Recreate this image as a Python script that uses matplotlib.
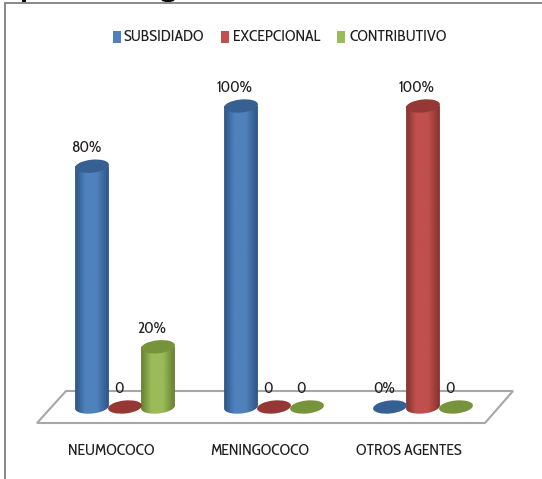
import numpy as np
import matplotlib
matplotlib.use("Agg")
import matplotlib.pyplot as plt
from matplotlib.patches import Ellipse, PathPatch, Polygon, Rectangle
from matplotlib.path import Path as MPath
from matplotlib.colors import LinearSegmentedColormap
from matplotlib.transforms import Affine2D, IdentityTransform

# -------------------------------------------------
# Data
# -------------------------------------------------

CATEGORIES = ["NEUMOCOCO", "MENINGOCOCO", "OTROS AGENTES"]
SERIES = ["SUBSIDIADO", "EXCEPCIONAL", "CONTRIBUTIVO"]
SUBSIDIADO = [80, 100, 0]
EXCEPCIONAL = [0, 0, 100]
CONTRIBUTIVO = [20, 0, 0]
LABELS_SUBSIDIADO = ["80%", "100%", "0%"]
LABELS_EXCEPCIONAL = ["0", "0", "100%"]
LABELS_CONTRIBUTIVO = ["20%", "0", "0"]

# -------------------------------------------------
# Style
# -------------------------------------------------

W, H = 542, 479
PX_X = 149.0  # pixels per category
PX_Y = 3.01  # pixels per percent
X0_PX = 125.0
Y0_PX = 407.0
BAR_STEP = 33.0 / PX_X
RX, RY = 17.0, 6.5  # cylinder ellipse radii, pixels
TILT = np.deg2rad(6)

COLORS = {
    "SUBSIDIADO": ("#4f81bd", "#2c5584", "#376092"),
    "EXCEPCIONAL": ("#c0504d", "#853230", "#953735"),
    "CONTRIBUTIVO": ("#9bbb59", "#64802f", "#77933c"),
}
TEXT = "#1f1f1f"
FS = 11.5
plt.rcParams["font.family"] = ["Cabin Condensed", "Lato", "DejaVu Sans"]


def draw_cylinder(ax, x, value, name):
    main, dark, top = COLORS[name]
    cx, cy_top = ax.transData.transform((x, value))
    _, cy_base = ax.transData.transform((x, 0))

    if value > 0:
        cmap = LinearSegmentedColormap.from_list(
            "cyl", [(0, dark), (0.3, main), (0.65, main), (1, dark)]
        )
        grad = np.linspace(0, 1, 64).reshape(1, -1)
        im = ax.imshow(grad, extent=[x - RX / PX_X, x + RX / PX_X, -3, value],
                       cmap=cmap, aspect="auto", origin="lower", zorder=3)
        # body outline: straight sides, tilted lower half of the base ellipse
        t = np.linspace(np.pi, 2 * np.pi, 40)
        ex = cx + RX * np.cos(t) * np.cos(TILT) - RY * np.sin(t) * np.sin(TILT)
        ey = cy_base + RX * np.cos(t) * np.sin(TILT) + RY * np.sin(t) * np.cos(TILT)
        verts = np.column_stack([
            np.r_[ex[0], ex, ex[-1], ex[0]],
            np.r_[cy_top, ey, cy_top, cy_top],
        ])
        clip = PathPatch(MPath(verts, closed=True), transform=IdentityTransform(),
                         fc="none", ec="none")
        ax.add_patch(clip)
        im.set_clip_path(clip)

    ax.add_patch(Ellipse((cx, cy_top), 2 * RX, 2 * RY, angle=np.rad2deg(TILT),
                         transform=IdentityTransform(), fc=top, ec="none", zorder=4))


def main():
    fig = plt.figure(figsize=(W / 100, H / 100), dpi=100, facecolor="white")
    ax = fig.add_axes([0, 0, 1, 1])
    ax.set_xlim((0 - X0_PX) / PX_X, (W - X0_PX) / PX_X)
    ax.set_ylim((Y0_PX - H) / PX_Y, Y0_PX / PX_Y)
    ax.axis("off")

    # pixel coordinates, origin top left, for frame, floor and legend
    px = Affine2D().scale(1, -1).translate(0, H)

    # chart frame, open to the right and bottom of the picture
    ax.plot([5, 5, W], [H, 3, 3], transform=px, color="#808080", lw=1.3, zorder=1,
            solid_joinstyle="miter")

    # descenders of the heading cut off by the frame
    ax.add_patch(Rectangle((22, 0), 4, 2, transform=px, fc="black", ec="none", zorder=2))
    ax.add_patch(Ellipse((168, 0), 13, 4, transform=px, fc="black", ec="none", zorder=2))

    # floor
    ax.add_patch(Polygon([(37, 423), (66, 391), (513, 391), (485, 423)], closed=True,
                         transform=px, fc="white", ec="#a6a6a6", lw=1.5, zorder=2))

    for s, (name, values, labels) in enumerate(zip(
            SERIES,
            [SUBSIDIADO, EXCEPCIONAL, CONTRIBUTIVO],
            [LABELS_SUBSIDIADO, LABELS_EXCEPCIONAL, LABELS_CONTRIBUTIVO])):
        for c, (v, lab) in enumerate(zip(values, labels)):
            x = c + (s - 1) * BAR_STEP
            draw_cylinder(ax, x, v, name)
            ax.text(x - 6 / PX_X, v + 18 / PX_Y, lab, ha="center", va="center",
                    fontsize=FS, color=TEXT, zorder=5)

    for c, cat in enumerate(CATEGORIES):
        ax.text(c - 14 / PX_X, (Y0_PX - 451) / PX_Y, cat, ha="center", va="center",
                fontsize=FS, color=TEXT, zorder=5)

    # legend
    for name, sq_x, txt_x in zip(SERIES, [113, 221, 337], [124, 233, 350]):
        ax.add_patch(Rectangle((sq_x, 31), 8, 12, transform=px, fc=COLORS[name][0],
                               ec="none", zorder=5))
        ax.text(txt_x, 37, name, transform=px, ha="left", va="center",
                fontsize=FS, color=TEXT, zorder=5)

    fig.savefig("out.png", dpi=100)
    plt.close(fig)


if __name__ == "__main__":
    main()
